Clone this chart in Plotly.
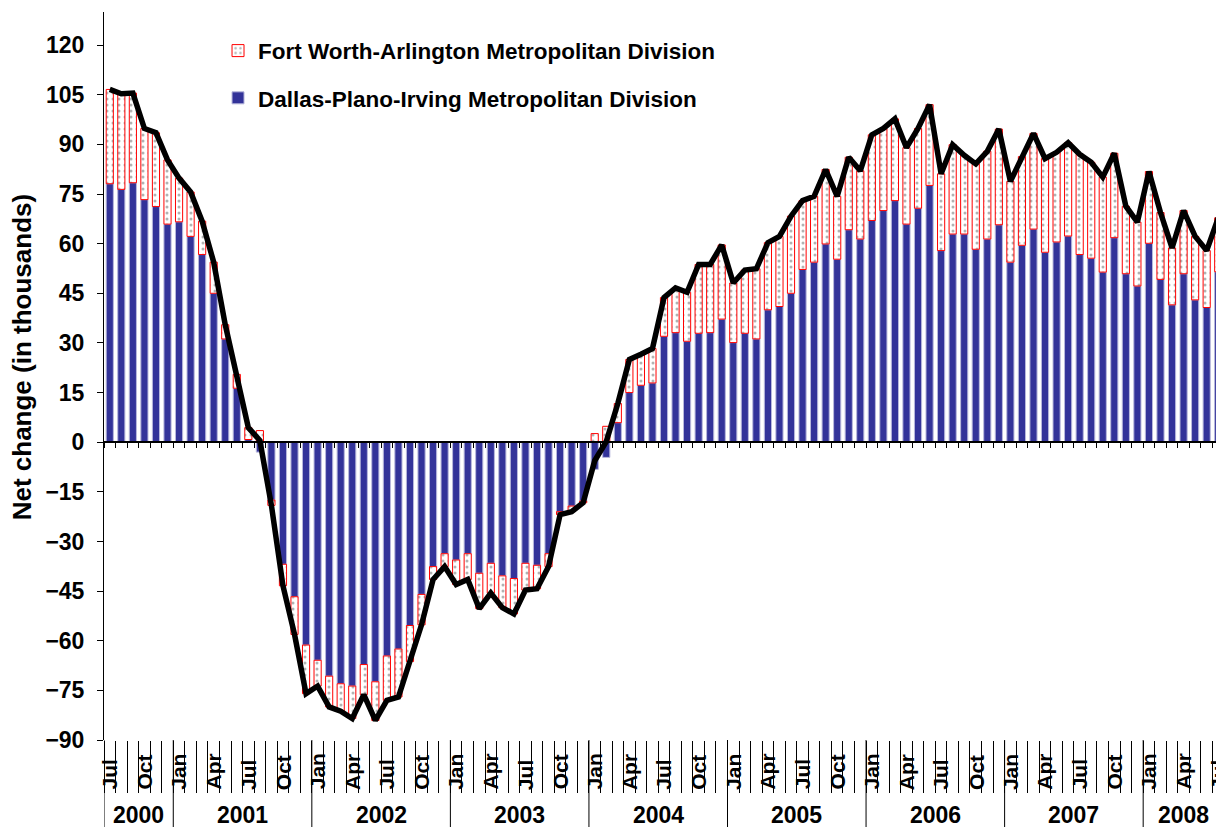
import plotly.graph_objects as go

# ---- data (thousands, net change over the year) ----
month_names = ["Jan", "Feb", "Mar", "Apr", "May", "Jun", "Jul", "Aug", "Sep", "Oct", "Nov", "Dec"]
years = [2000, 2001, 2002, 2003, 2004, 2005, 2006, 2007, 2008]
start_month = 7  # Jul 2000
n_months = 97    # Jul 2000 .. Jul 2008

dallas = [
    78.1, 76.4, 78.4, 73.3, 71.2, 65.9,                                  # 2000 Jul-Dec
    66.6, 62.2, 56.7, 45.0, 31.2, 16.3, 0.8, -3.0, -17.5, -36.9, -46.7, -61.3,  # 2001
    -65.9, -70.7, -73.0, -73.7, -67.2, -72.4, -64.6, -62.5, -55.4, -46.0, -37.6, -33.7,  # 2002
    -35.6, -33.7, -39.6, -36.6, -40.4, -41.2, -36.6, -37.2, -33.7, -21.0, -19.3, -17.8,  # 2003
    -8.2, -4.6, 5.9, 15.0, 17.2, 17.9, 32.0, 33.1, 30.5, 32.9, 33.1, 37.2,  # 2004
    30.1, 32.9, 31.2, 40.0, 41.0, 45.0, 52.2, 54.4, 59.9, 55.3, 64.2, 61.4,  # 2005
    67.0, 70.0, 73.0, 65.9, 70.7, 77.6, 57.9, 62.9, 62.9, 58.3, 61.4, 65.7,  # 2006
    54.4, 59.5, 64.4, 57.4, 60.5, 62.3, 56.7, 55.6, 51.4, 61.8, 50.9, 47.2,  # 2007
    60.1, 49.2, 41.5, 50.9, 43.0, 40.7, 51.5,                            # 2008 Jan-Jul
]
fort_worth = [
    28.5, 28.9, 27.1, 21.5, 22.3, 19.4,
    13.2, 13.4, 10.1, 9.4, 4.3, 4.2, 3.6, 3.5, -1.6, -6.5, -11.4, -14.7,
    -7.8, -9.3, -8.3, -9.8, -9.1, -11.7, -13.4, -14.5, -10.9, -9.2, -3.9, -3.9,
    -7.4, -7.8, -10.7, -9.0, -9.6, -10.7, -8.1, -7.1, -3.9, -0.9, -1.7, -0.5,
    2.6, 4.8, 5.8, 10.0, 9.4, 10.4, 11.7, 13.5, 14.8, 20.8, 20.6, 22.4,
    18.0, 19.1, 21.2, 20.3, 21.2, 23.3, 20.8, 19.9, 22.5, 19.0, 21.9, 20.6,
    25.9, 24.8, 24.7, 23.1, 24.1, 24.4, 23.2, 27.0, 23.8, 25.8, 26.5, 28.9,
    24.4, 26.8, 28.9, 28.3, 27.1, 28.2, 30.3, 29.0, 28.7, 25.5, 20.4, 19.3,
    21.7, 20.2, 17.2, 19.1, 19.2, 17.2, 16.3,
]
y_ticks = list(range(-90, 121, 15))

# ---- derived ----
x_idx = list(range(n_months))
total = [round(d + f, 1) for d, f in zip(dallas, fort_worth)]
month_of = [(start_month - 1 + i) % 12 for i in x_idx]
year_of = [2000 + (start_month - 1 + i) // 12 for i in x_idx]
boundaries = [i - 0.5 for i in range(n_months + 1)]

FONT = "Liberation Sans, Arial, sans-serif"

fig = go.Figure()
fig.add_trace(go.Bar(
    x=x_idx, y=dallas, name="Dallas-Plano-Irving Metropolitan Division",
    marker=dict(color="#333399", line=dict(color="#b8b8dc", width=1)),
    legendgroup="d", legendrank=2,
))
fig.add_trace(go.Bar(
    x=x_idx, y=fort_worth, name="Fort Worth-Arlington Metropolitan Division",
    marker=dict(color="white", line=dict(color="#ff0000", width=1),
                pattern=dict(shape=".", fgcolor="#666666", bgcolor="white",
                             size=6, solidity=0.2)),
    legendgroup="f", legendrank=1,
))
fig.add_trace(go.Scatter(
    x=x_idx, y=total, mode="lines", xaxis="x2", yaxis="y",
    line=dict(color="black", width=5.5), showlegend=False,
))

shapes = []
# year separators in the category label area
year_starts = [i for i in x_idx if month_of[i] == 0 or i == 0]
for i in year_starts:
    shapes.append(dict(type="line", xref="x", yref="paper", x0=i - 0.5, x1=i - 0.5,
                       y0=0, y1=-0.125, line=dict(color="black", width=1)))

annotations = []
for i in x_idx:
    if month_of[i] in (0, 3, 6, 9):
        annotations.append(dict(
            x=i, y=-0.071, xref="x", yref="paper", text=month_names[month_of[i]],
            textangle=-90, showarrow=False, xanchor="center", yanchor="bottom",
            font=dict(family=FONT, size=21, color="black", weight="bold"),
        ))
for yr in years:
    idx = [i for i in x_idx if year_of[i] == yr]
    annotations.append(dict(
        x=(idx[0] + idx[-1]) / 2, y=-0.103, xref="x", yref="paper", text=str(yr),
        showarrow=False, xanchor="center", yanchor="middle",
        font=dict(family=FONT, size=23, color="black", weight="bold"),
    ))
annotations.append(dict(
    x=-0.073, y=0.526, xref="paper", yref="paper", text="Net change (in thousands)",
    textangle=-90, showarrow=False, xanchor="center", yanchor="middle",
    font=dict(family=FONT, size=26, color="black", weight="bold"),
))

fig.update_layout(
    width=1216, height=819,
    margin=dict(l=96, r=0, t=4, b=87, autoexpand=False),
    paper_bgcolor="white", plot_bgcolor="white",
    barmode="relative", bargap=0.38,
    font=dict(family=FONT, color="black"),
    showlegend=True,
    legend=dict(x=0.1018, y=0.976, xanchor="left", yanchor="top",
                traceorder="grouped", tracegroupgap=15,
                font=dict(family=FONT, size=22.5, color="black", weight="bold"),
                bgcolor="rgba(0,0,0,0)"),
    xaxis=dict(range=[-0.5, n_months - 0.5], showgrid=False, zeroline=False,
               showline=False, tickmode="array", tickvals=boundaries,
               ticks="outside", ticklen=52, tickcolor="black", tickwidth=1,
               showticklabels=False),
    xaxis2=dict(overlaying="x", matches="x", anchor="free", position=90 / 220,
                side="bottom", showgrid=False, zeroline=False, showline=True,
                linecolor="black", linewidth=1.5, tickmode="array", tickvals=boundaries,
                ticks="outside", ticklen=5, tickcolor="black", tickwidth=1,
                showticklabels=False),
    yaxis=dict(range=[-90, 130], tickmode="array", tickvals=y_ticks,
               showgrid=False, zeroline=False, showline=True, linecolor="black",
               linewidth=1, ticks="outside", ticklen=6, tickcolor="black",
               ticklabelstandoff=8,
               tickfont=dict(family=FONT, size=23, color="black", weight="bold")),
    shapes=shapes,
    annotations=annotations,
)

fig.write_html("out.html")
